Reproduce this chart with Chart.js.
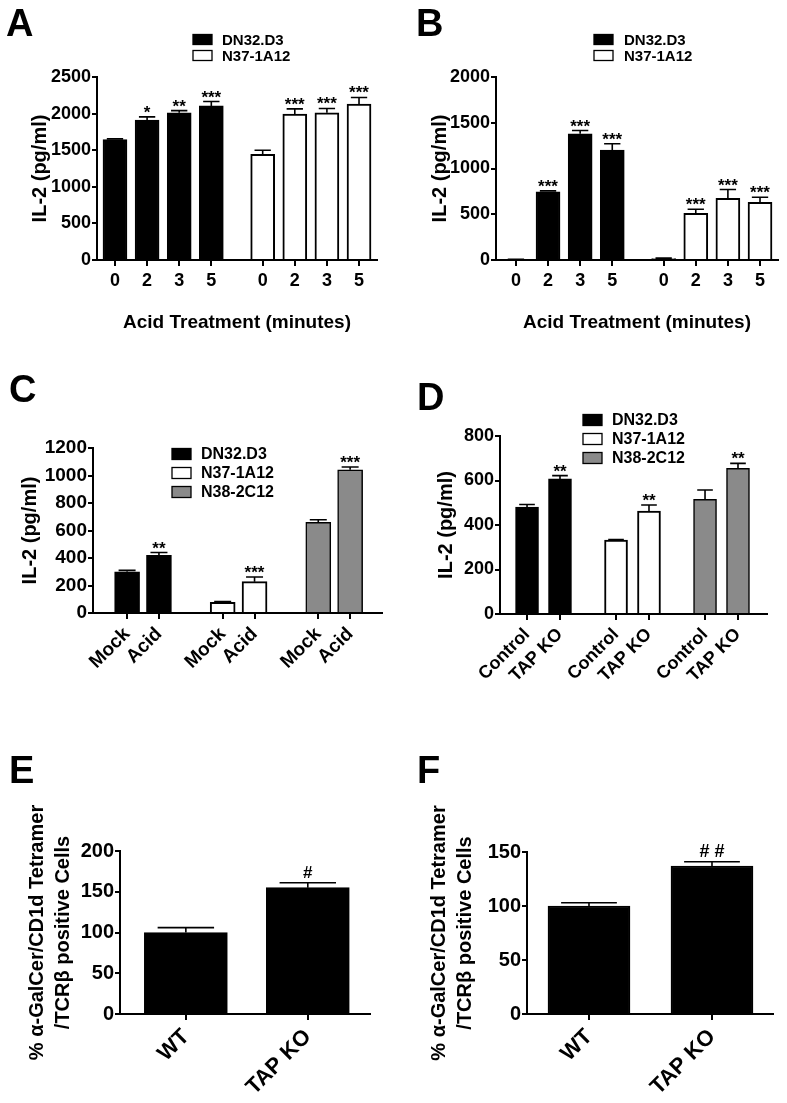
<!DOCTYPE html>
<html><head><meta charset="utf-8">
<script src="https://cdn.jsdelivr.net/npm/chart.js@4.4.1/dist/chart.umd.min.js"></script>
<style>
html,body{margin:0;padding:0;background:#fff;}
body{width:787px;height:1103px;position:relative;overflow:hidden;}
canvas{position:absolute;}
</style></head><body>
<canvas id="cA" width="390" height="340" style="left:0;top:0"></canvas>
<canvas id="cB" width="397" height="340" style="left:390px;top:0"></canvas>
<canvas id="cC" width="390" height="360" style="left:0;top:340px"></canvas>
<canvas id="cD" width="397" height="360" style="left:390px;top:340px"></canvas>
<canvas id="cE" width="390" height="403" style="left:0;top:700px"></canvas>
<canvas id="cF" width="397" height="403" style="left:390px;top:700px"></canvas>
<script>
// ---------------- DATA ----------------
const seriesNames = ['DN32.D3', 'N37-1A12', 'N38-2C12'];
const minuteLabels = ['0', '2', '3', '5'];
const treatLabels = ['Mock', 'Acid'];
const koLabels = ['Control', 'TAP KO'];
const mouseLabels = ['WT', 'TAP KO'];

const A_DN32 = [1645, 1910, 2010, 2105];
const A_DN32_err = [10, 45, 30, 60];
const A_DN32_sig = ['', '*', '**', '***'];
const A_N37 = [1445, 1995, 2010, 2130];
const A_N37_err = [55, 70, 60, 90];
const A_N37_sig = ['', '***', '***', '***'];
const A_yTicks = [0, 500, 1000, 1500, 2000, 2500];

const B_DN32 = [5, 745, 1380, 1200];
const B_DN32_err = [3, 10, 35, 70];
const B_DN32_sig = ['', '***', '***', '***'];
const B_N37 = [15, 510, 675, 630];
const B_N37_err = [5, 45, 95, 55];
const B_N37_sig = ['', '***', '***', '***'];
const B_yTicks = [0, 500, 1000, 1500, 2000];

const C_DN32 = [300, 420];
const C_DN32_err = [10, 20];
const C_DN32_sig = ['', '**'];
const C_N37 = [78, 228];
const C_N37_err = [5, 34];
const C_N37_sig = ['', '***'];
const C_N38 = [660, 1042];
const C_N38_err = [18, 20];
const C_N38_sig = ['', '***'];
const C_yTicks = [0, 200, 400, 600, 800, 1000, 1200];

const D_DN32 = [480, 607];
const D_DN32_err = [12, 15];
const D_DN32_sig = ['', '**'];
const D_N37 = [332, 463];
const D_N37_err = [3, 27];
const D_N37_sig = ['', '**'];
const D_N38 = [515, 655];
const D_N38_err = [42, 22];
const D_N38_sig = ['', '**'];
const D_yTicks = [0, 200, 400, 600, 800];

const E_values = [100, 155];
const E_err = [6, 6];
const E_sig = ['', '#'];
const E_yTicks = [0, 50, 100, 150, 200];

const F_values = [100, 137];
const F_err = [3, 4];
const F_sig = ['', '# #'];
const F_yTicks = [0, 50, 100, 150];

const titleIL2 = 'IL-2 (pg/ml)';
const titleAcid = 'Acid Treatment (minutes)';
const titleTet = ['% \u03B1-GalCer/CD1d Tetramer', '/TCR\u03B2 positive Cells'];

// ---------------- STYLE ----------------
const FONT = "'Liberation Sans', Arial, Helvetica, sans-serif";
Chart.defaults.font.family = FONT;
Chart.defaults.color = '#000';
const STY = {
  black: {bg: '#000000', border: '#000000', bw: 1.5},
  white: {bg: '#ffffff', border: '#000000', bw: 2},
  gray:  {bg: '#8a8a8a', border: '#000000', bw: 1.5}
};

function buildPanel(cfg) {
  const per = cfg.catLabels.length;
  const positions = [];
  const tickLabels = [];
  const datasets = cfg.series.map((s, g) => {
    const data = s.values.map((v, i) => {
      const p = g * (per + cfg.gap) + i;
      positions.push(p);
      tickLabels.push(cfg.catLabels[i]);
      return {x: p, y: v};
    });
    return {
      label: s.label,
      data: data,
      errors: s.errors,
      sig: s.sig,
      backgroundColor: STY[s.style].bg,
      borderColor: STY[s.style].border,
      borderWidth: STY[s.style].bw,
      barThickness: cfg.barW,
      grouped: false,
      borderSkipped: 'start'
    };
  });

  const overlay = {
    id: 'overlay' + cfg.id,
    afterDatasetsDraw(chart) {
      const ctx = chart.ctx;
      const ys = chart.scales.y;
      ctx.save();
      chart.data.datasets.forEach((ds, di) => {
        const meta = chart.getDatasetMeta(di);
        meta.data.forEach((el, j) => {
          const v = ds.data[j].y;
          const e = ds.errors[j];
          const x = el.x;
          const yTop = ys.getPixelForValue(v);
          const yCap = ys.getPixelForValue(v + e);
          const cw = cfg.barW * 0.68;
          ctx.strokeStyle = '#000';
          ctx.lineWidth = 1.6;
          ctx.beginPath();
          ctx.moveTo(x, yTop);
          ctx.lineTo(x, yCap);
          ctx.moveTo(x - cw / 2, yCap);
          ctx.lineTo(x + cw / 2, yCap);
          ctx.stroke();
          const s = ds.sig[j];
          if (s) {
            ctx.fillStyle = '#000';
            ctx.textAlign = 'center';
            ctx.textBaseline = 'alphabetic';
            const isHash = s.indexOf('#') >= 0;
            ctx.font = (isHash ? 'bold ' + cfg.hashSize : 'bold ' + cfg.starSize) + 'px ' + FONT;
            ctx.fillText(s, x, yCap + (isHash ? -5 : 1));
          }
        });
      });
      ctx.restore();
    },
    afterDraw(chart) {
      const ctx = chart.ctx;
      ctx.save();
      ctx.fillStyle = '#000';
      ctx.textAlign = 'left';
      ctx.textBaseline = 'alphabetic';
      ctx.font = 'bold 38px ' + FONT;
      ctx.fillText(cfg.letter, cfg.letterX, cfg.letterY);
      if (cfg.legend) {
        const L = cfg.legend;
        chart.data.datasets.forEach((ds, i) => {
          const cy = L.ys[i];
          ctx.fillStyle = ds.backgroundColor;
          ctx.fillRect(L.x, cy - L.bh / 2, L.bw, L.bh);
          ctx.strokeStyle = ds.borderColor;
          ctx.lineWidth = 1.3;
          ctx.strokeRect(L.x, cy - L.bh / 2, L.bw, L.bh);
          ctx.fillStyle = '#000';
          ctx.textBaseline = 'middle';
          ctx.font = 'bold ' + L.font + 'px ' + FONT;
          ctx.fillText(ds.label, L.x + L.bw + L.gap, cy + 1);
        });
      }
      ctx.restore();
    }
  };

  const rot = cfg.rotate ? 45 : 0;
  return new Chart(document.getElementById(cfg.canvas), {
    type: 'bar',
    data: {datasets: datasets},
    options: {
      responsive: false,
      animation: false,
      events: [],
      layout: {padding: {left: 0, top: cfg.padTop, right: cfg.padRight, bottom: 0}},
      plugins: {legend: {display: false}, tooltip: {enabled: false}, title: {display: false}},
      scales: {
        x: {
          type: 'linear',
          min: cfg.xMin, max: cfg.xMax,
          offset: false,
          afterBuildTicks: (sc) => { sc.ticks = positions.map(p => ({value: p})); },
          afterFit: (sc) => { sc.height = cfg.xH; },
          ticks: {
            autoSkip: false,
            minRotation: rot, maxRotation: rot,
            padding: cfg.xTickPad,
            font: {size: cfg.xTickSize, weight: 'bold'},
            color: '#000',
            callback: (v, i) => tickLabels[i]
          },
          grid: {display: true, offset: false, drawOnChartArea: false, drawTicks: true, tickLength: 6, color: '#000', lineWidth: 2},
          border: {display: true, color: '#000', width: 2},
          title: cfg.xTitle ? {display: true, text: cfg.xTitle, font: {size: 19, weight: 'bold'}, color: '#000', padding: {top: 0, bottom: cfg.xTitlePad}} : {display: false}
        },
        y: {
          type: 'linear',
          min: 0, max: cfg.yTicks[cfg.yTicks.length - 1],
          afterBuildTicks: (sc) => { sc.ticks = cfg.yTicks.map(v => ({value: v})); },
          afterFit: (sc) => { sc.width = cfg.yW; },
          ticks: {padding: 1, font: {size: cfg.yTickSize, weight: 'bold'}, color: '#000', callback: (v) => String(v)},
          grid: {display: true, drawOnChartArea: false, drawTicks: true, tickLength: 5, color: '#000', lineWidth: 2},
          border: {display: true, color: '#000', width: 2},
          title: {display: true, text: cfg.yTitle, font: {size: cfg.yTitleSize, weight: 'bold', lineHeight: cfg.yTitleLH}, color: '#000', padding: {top: cfg.yTitlePad, bottom: 0}}
        }
      }
    },
    plugins: [overlay]
  });
}

// ---------------- PANELS ----------------
buildPanel({
  id: 'A', canvas: 'cA', letter: 'A', letterX: 6, letterY: 36,
  catLabels: minuteLabels, gap: 0.6, xMin: -0.56, xMax: 8.16, barW: 24,
  series: [
    {label: seriesNames[0], values: A_DN32, errors: A_DN32_err, sig: A_DN32_sig, style: 'black'},
    {label: seriesNames[1], values: A_N37, errors: A_N37_err, sig: A_N37_sig, style: 'white'}
  ],
  padTop: 77, padRight: 13, yW: 97, xH: 80,
  yTicks: A_yTicks, yTickSize: 18, xTickSize: 18, xTickPad: 4,
  yTitle: titleIL2, yTitleSize: 20, yTitleLH: 1.2, yTitlePad: 28,
  xTitle: titleAcid, xTitlePad: 6,
  starSize: 17, hashSize: 17,
  legend: {x: 193, ys: [39.5, 55.5], bw: 19, bh: 10, gap: 10, font: 15}
});

buildPanel({
  id: 'B', canvas: 'cB', letter: 'B', letterX: 26, letterY: 36,
  catLabels: minuteLabels, gap: 0.6, xMin: -0.62, xMax: 8.16, barW: 24,
  series: [
    {label: seriesNames[0], values: B_DN32, errors: B_DN32_err, sig: B_DN32_sig, style: 'black'},
    {label: seriesNames[1], values: B_N37, errors: B_N37_err, sig: B_N37_sig, style: 'white'}
  ],
  padTop: 77, padRight: 9, yW: 106, xH: 80,
  yTicks: B_yTicks, yTickSize: 18, xTickSize: 18, xTickPad: 4,
  yTitle: titleIL2, yTitleSize: 20, yTitleLH: 1.2, yTitlePad: 38,
  xTitle: titleAcid, xTitlePad: 6,
  starSize: 17, hashSize: 17,
  legend: {x: 204, ys: [39.5, 55.5], bw: 19, bh: 10, gap: 11, font: 15}
});

buildPanel({
  id: 'C', canvas: 'cC', letter: 'C', letterX: 9, letterY: 62,
  catLabels: treatLabels, gap: 1, xMin: -1.07, xMax: 8.0, barW: 25,
  series: [
    {label: seriesNames[0], values: C_DN32, errors: C_DN32_err, sig: C_DN32_sig, style: 'black'},
    {label: seriesNames[1], values: C_N37, errors: C_N37_err, sig: C_N37_sig, style: 'white'},
    {label: seriesNames[2], values: C_N38, errors: C_N38_err, sig: C_N38_sig, style: 'gray'}
  ],
  padTop: 108, padRight: 8, yW: 93, xH: 87, rotate: true,
  yTicks: C_yTicks, yTickSize: 19, xTickSize: 19, xTickPad: 4,
  yTitle: titleIL2, yTitleSize: 20, yTitleLH: 1.2, yTitlePad: 18,
  starSize: 17, hashSize: 17,
  legend: {x: 172, ys: [114, 133, 152], bw: 19, bh: 11, gap: 10, font: 16}
});

buildPanel({
  id: 'D', canvas: 'cD', letter: 'D', letterX: 27, letterY: 70,
  catLabels: koLabels, gap: 0.7, xMin: -0.82, xMax: 7.28, barW: 23,
  series: [
    {label: seriesNames[0], values: D_DN32, errors: D_DN32_err, sig: D_DN32_sig, style: 'black'},
    {label: seriesNames[1], values: D_N37, errors: D_N37_err, sig: D_N37_sig, style: 'white'},
    {label: seriesNames[2], values: D_N38, errors: D_N38_err, sig: D_N38_sig, style: 'gray'}
  ],
  padTop: 96, padRight: 20, yW: 110, xH: 86, rotate: true,
  yTicks: D_yTicks, yTickSize: 18, xTickSize: 18, xTickPad: 4,
  yTitle: titleIL2, yTitleSize: 20, yTitleLH: 1.2, yTitlePad: 44,
  starSize: 17, hashSize: 17,
  legend: {x: 193, ys: [80, 99, 118], bw: 19, bh: 11, gap: 10, font: 16}
});

buildPanel({
  id: 'E', canvas: 'cE', letter: 'E', letterX: 9, letterY: 83,
  catLabels: mouseLabels, gap: 0, xMin: -0.54, xMax: 1.51, barW: 83,
  series: [
    {label: '', values: E_values, errors: E_err, sig: E_sig, style: 'black'}
  ],
  padTop: 151, padRight: 20, yW: 120, xH: 89, rotate: true,
  yTicks: E_yTicks, yTickSize: 20, xTickSize: 22, xTickPad: 4,
  yTitle: titleTet, yTitleSize: 20, yTitleLH: 1.3, yTitlePad: 24,
  starSize: 17, hashSize: 17
});

buildPanel({
  id: 'F', canvas: 'cF', letter: 'F', letterX: 27, letterY: 83,
  catLabels: mouseLabels, gap: 0, xMin: -0.504, xMax: 1.496, barW: 82,
  series: [
    {label: '', values: F_values, errors: F_err, sig: F_sig, style: 'black'}
  ],
  padTop: 152, padRight: 14, yW: 137, xH: 89, rotate: true,
  yTicks: F_yTicks, yTickSize: 20, xTickSize: 22, xTickPad: 4,
  yTitle: titleTet, yTitleSize: 20, yTitleLH: 1.3, yTitlePad: 36,
  starSize: 17, hashSize: 18
});
</script>
</body></html>
